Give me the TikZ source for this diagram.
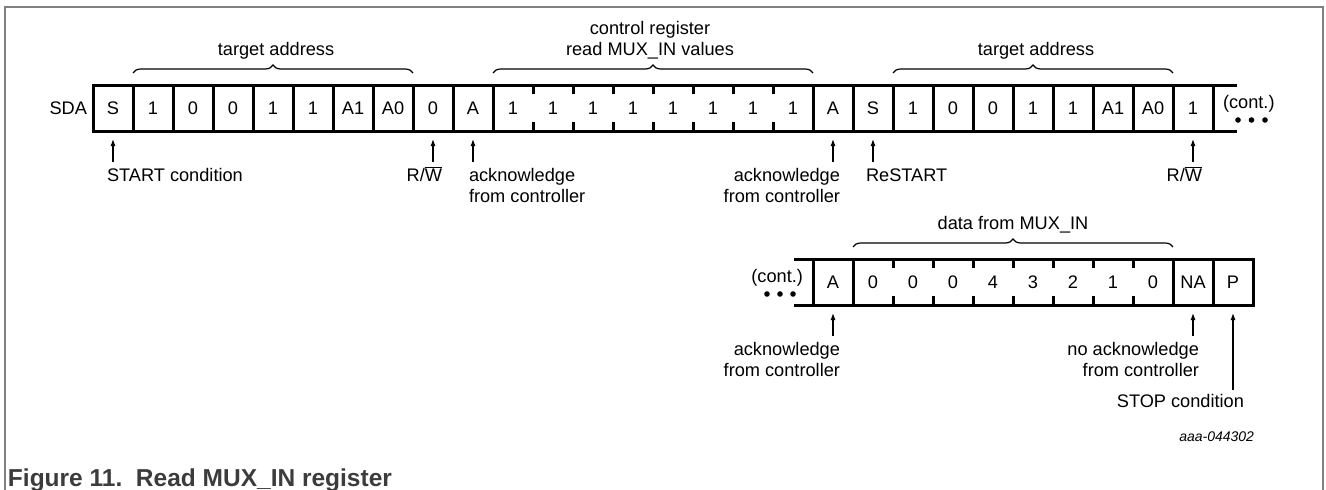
\documentclass[tikz,border=0pt]{standalone}
\usepackage{fontspec}
\setmainfont{Liberation Sans}
\usetikzlibrary{arrows.meta,decorations.pathreplacing}
\definecolor{framecol}{RGB}{128,128,128}
\definecolor{capcol}{RGB}{60,60,60}
\begin{document}
\begin{tikzpicture}[x=1pt,y=-1pt,
  every node/.style={inner sep=0pt, outer sep=0pt},
  txt/.style={font=\fontsize{18.2}{21}\selectfont},
  cell/.style={txt, minimum width=40pt, minimum height=46pt},
  boxline/.style={line width=3pt, line cap=rect},
  tickline/.style={line width=3pt},
  arr/.style={line width=1.1pt, -{Latex[length=7pt,width=5pt]}},
  brc/.style={line width=1.2pt, decorate, decoration={brace, amplitude=8pt}},
  lbl/.style={txt},
]
\useasboundingbox (0,0) rectangle (1326,490);
% frame
\draw[framecol, line width=1.3pt] (5,490) -- (5,7) -- (1323,7) -- (1323,490);

% ---------- row 1 ----------
\node[txt, anchor=east] (sda) at (87,108) {SDA};
\foreach \t [count=\i from 0] in {S,1,0,0,1,1,A1,A0,0,A,1,1,1,1,1,1,1,1,A,S,1,0,0,1,1,A1,A0,1}
  \node[cell] (r\i) at ({113+40*\i},108) {\t};
\draw[boxline] (r0.north west) -- ([xshift=22pt]r27.north east);
\draw[boxline] (r0.south west) -- ([xshift=22pt]r27.south east);
\foreach \k in {0,...,10} \draw[boxline] (r\k.north west) -- (r\k.south west);
\foreach \k in {18,...,27} \draw[boxline] (r\k.north west) -- (r\k.south west);
\draw[boxline] (r27.north east) -- (r27.south east);
\foreach \k in {11,...,17} {
  \draw[tickline] (r\k.north west) -- ++(0,9);
  \draw[tickline] (r\k.south west) -- ++(0,-9);
}
\node[txt, anchor=west] (cont1) at (1223,103.5) {(cont.)};
\foreach \x in {1238,1251.5,1265} \fill (\x,120) circle[radius=2.8pt];

% braces row 1
\draw[brc] ([yshift=12pt]r1.north west) -- ([yshift=12pt]r7.north east);
\draw[brc] ([yshift=12pt]r10.north west) -- ([yshift=12pt]r17.north east);
\draw[brc] ([yshift=12pt]r20.north west) -- ([yshift=12pt]r26.north east);
\node[lbl, anchor=base] (bT1) at (276,55) {target address};
\node[lbl, anchor=base, align=center] (bC) at (650,55) {control register\\read MUX\_IN values};
\node[lbl, anchor=base] (bT2) at (1036,55) {target address};

% arrows row 1
\foreach \k in {0,8,9,18,19,27}
  \draw[arr] ([yshift=-31pt]r\k.south) -- ([yshift=-8pt]r\k.south);
\node[lbl, anchor=base west] (lStart) at (107,181) {START condition};
\node[lbl, anchor=base east] (lRW1) at (442,181) {R/$\overline{\hbox{W}}$};
\node[lbl, anchor=base west, align=left] (lAck1) at (469,202) {acknowledge\\from controller};
\node[lbl, anchor=base east, align=right] (lAck2) at (840,202) {acknowledge\\from controller};
\node[lbl, anchor=base west] (lRe) at (866,181) {ReSTART};
\node[lbl, anchor=base east] (lRW2) at (1202,181) {R/$\overline{\hbox{W}}$};

% ---------- row 2 ----------
\foreach \t [count=\i from 0] in {A,0,0,0,4,3,2,1,0,NA,P}
  \node[cell] (s\i) at ({833+40*\i},282) {\t};
\draw[boxline] ([xshift=-18pt]s0.north west) -- (s10.north east);
\draw[boxline] ([xshift=-18pt]s0.south west) -- (s10.south east);
\foreach \k in {0,1,9,10} \draw[boxline] (s\k.north west) -- (s\k.south west);
\draw[boxline] (s10.north east) -- (s10.south east);
\foreach \k in {2,...,8} {
  \draw[tickline] (s\k.north west) -- ++(0,9);
  \draw[tickline] (s\k.south west) -- ++(0,-9);
}
\node[txt, anchor=east] (cont2) at (803,277.5) {(cont.)};
\foreach \x in {767,780,793} \fill (\x,294) circle[radius=2.8pt];

\draw[brc] ([yshift=12pt]s1.north west) -- ([yshift=12pt]s8.north east);
\node[lbl, anchor=base] (bD) at (1013,229) {data from MUX\_IN};

\foreach \k in {0,9}
  \draw[arr] ([yshift=-31pt]s\k.south) -- ([yshift=-8pt]s\k.south);
\draw[arr] ([yshift=-85pt]s10.south) -- ([yshift=-8pt]s10.south);
\node[lbl, anchor=base east, align=right] (lAck3) at (840,376) {acknowledge\\from controller};
\node[lbl, anchor=base east, align=right] (lNA) at (1199,376) {no acknowledge\\from controller};
\node[lbl, anchor=base east] (lStop) at (1244,407) {STOP condition};

\node[anchor=base east, font=\itshape\fontsize{14}{16}\selectfont] (figid) at (1254,441) {aaa-044302};
\node[anchor=base west, font=\bfseries\fontsize{24.5}{28}\selectfont, text=capcol] (cap) at (8,486) {Figure 11.\ \ Read MUX\_IN register};
\end{tikzpicture}
\end{document}
